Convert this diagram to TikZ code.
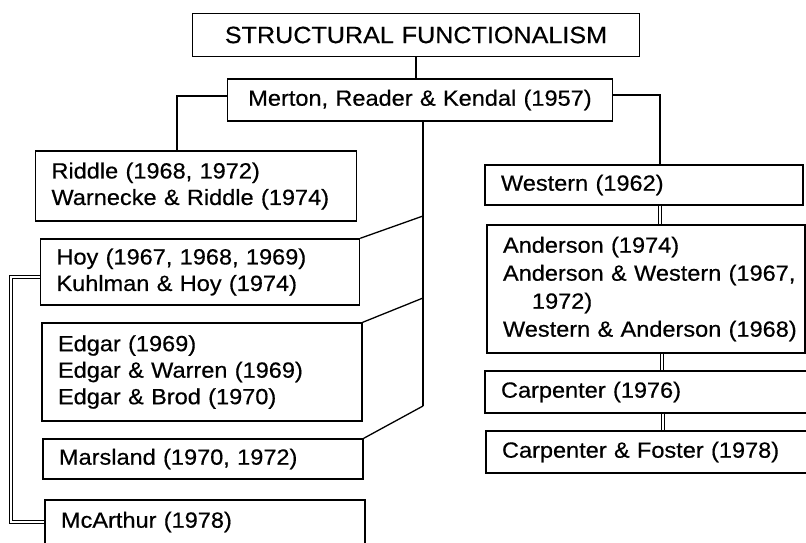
\documentclass[tikz,border=0pt]{standalone}
\usepackage{fontspec}
\setmainfont{Liberation Sans}[FakeStretch=1.07,FakeBold=0.5]
\newcommand\bxl[1]{\mbox{#1}}
\begin{document}
\begin{tikzpicture}[x=1pt,y=-1pt,
  box/.style={draw, line width=1.4pt, inner xsep=16pt, inner ysep=0pt, align=left,
    font=\fontsize{22}{26.5}\selectfont},
  cbox/.style={box, align=center},
  conn/.style={line width=1.3pt},
  dbl/.style={double, double distance=2.6pt, line width=0.9pt}]
\useasboundingbox (0,0) rectangle (806,542);
\clip (0,0) rectangle (806,542);

\node[cbox, font=\fontsize{23.5}{27}\selectfont, text width=415pt, minimum height=43pt] (sf) at (416,35) {\bxl{STRUCTURAL FUNCTIONALISM}};
\node[cbox, text width=353pt, minimum height=42pt] (merton) at (420,100) {\bxl{Merton, Reader \& Kendal (1957)}};
\node[box, text width=289pt, minimum height=70pt] (riddle) at (196,186) {\bxl{Riddle (1968, 1972)}\\\bxl{Warnecke \& Riddle (1974)}};
\node[box, text width=287pt, minimum height=66pt] (hoy) at (200,272) {\bxl{Hoy (1967, 1968, 1969)}\\\bxl{Kuhlman \& Hoy (1974)}};
\node[box, text width=288pt, minimum height=98pt] (edgar) at (202,372) {\bxl{Edgar (1969)}\\\bxl{Edgar \& Warren (1969)}\\\bxl{Edgar \& Brod (1970)}};
\node[box, text width=288pt, minimum height=40pt] (marsland) at (203,459) {\bxl{Marsland (1970, 1972)}};
\node[box, text width=288pt, minimum height=44pt] (mcarthur) at (205,522) {\bxl{McArthur (1978)}};
\node[box, text width=286pt, minimum height=40pt] (western) at (644,185) {\bxl{Western (1962)}};
\node[box, text width=286pt, minimum height=128pt, font=\fontsize{22}{28}\selectfont] (anderson) at (646,289) {\bxl{Anderson (1974)}\\\bxl{Anderson \& Western (1967,}\\\bxl{\hspace*{29pt}1972)}\\\bxl{Western \& Anderson (1968)}};
\node[box, text width=292pt, minimum height=42pt] (carp) at (647,392) {\bxl{Carpenter (1976)}};
\node[box, text width=292pt, minimum height=42pt] (cf) at (648,452) {\bxl{Carpenter \& Foster (1978)}};

% connectors
\draw[conn] (sf.south) -- (sf.south |- merton.north);
\draw[conn] ([yshift=4pt]merton.west) -| ([xshift=-19pt]riddle.north);
\draw[conn] ([yshift=5pt]merton.east) -| ([xshift=16pt]western.north);

\coordinate (t1) at (423,216);
\coordinate (t2) at (423,298);
\coordinate (t3) at (423,406);
\draw[conn] ([xshift=3pt]merton.south) -- (t3);
\draw[conn] (hoy.north east) -- (t1);
\draw[conn] (edgar.north east) -- (t2);
\draw[conn] (marsland.north east) -- (t3);

\coordinate (dl) at (11,400);
\draw[dbl] ([yshift=-5pt]hoy.west) -| (dl) |- (mcarthur.west);

\draw[dbl] ([xshift=16pt]western.south) -- ([xshift=14pt]anderson.north);
\draw[dbl] ([xshift=16pt]anderson.south) -- ([xshift=15pt]carp.north);
\draw[dbl] ([xshift=16pt]carp.south) -- ([xshift=15pt]cf.north);
\end{tikzpicture}
\end{document}
